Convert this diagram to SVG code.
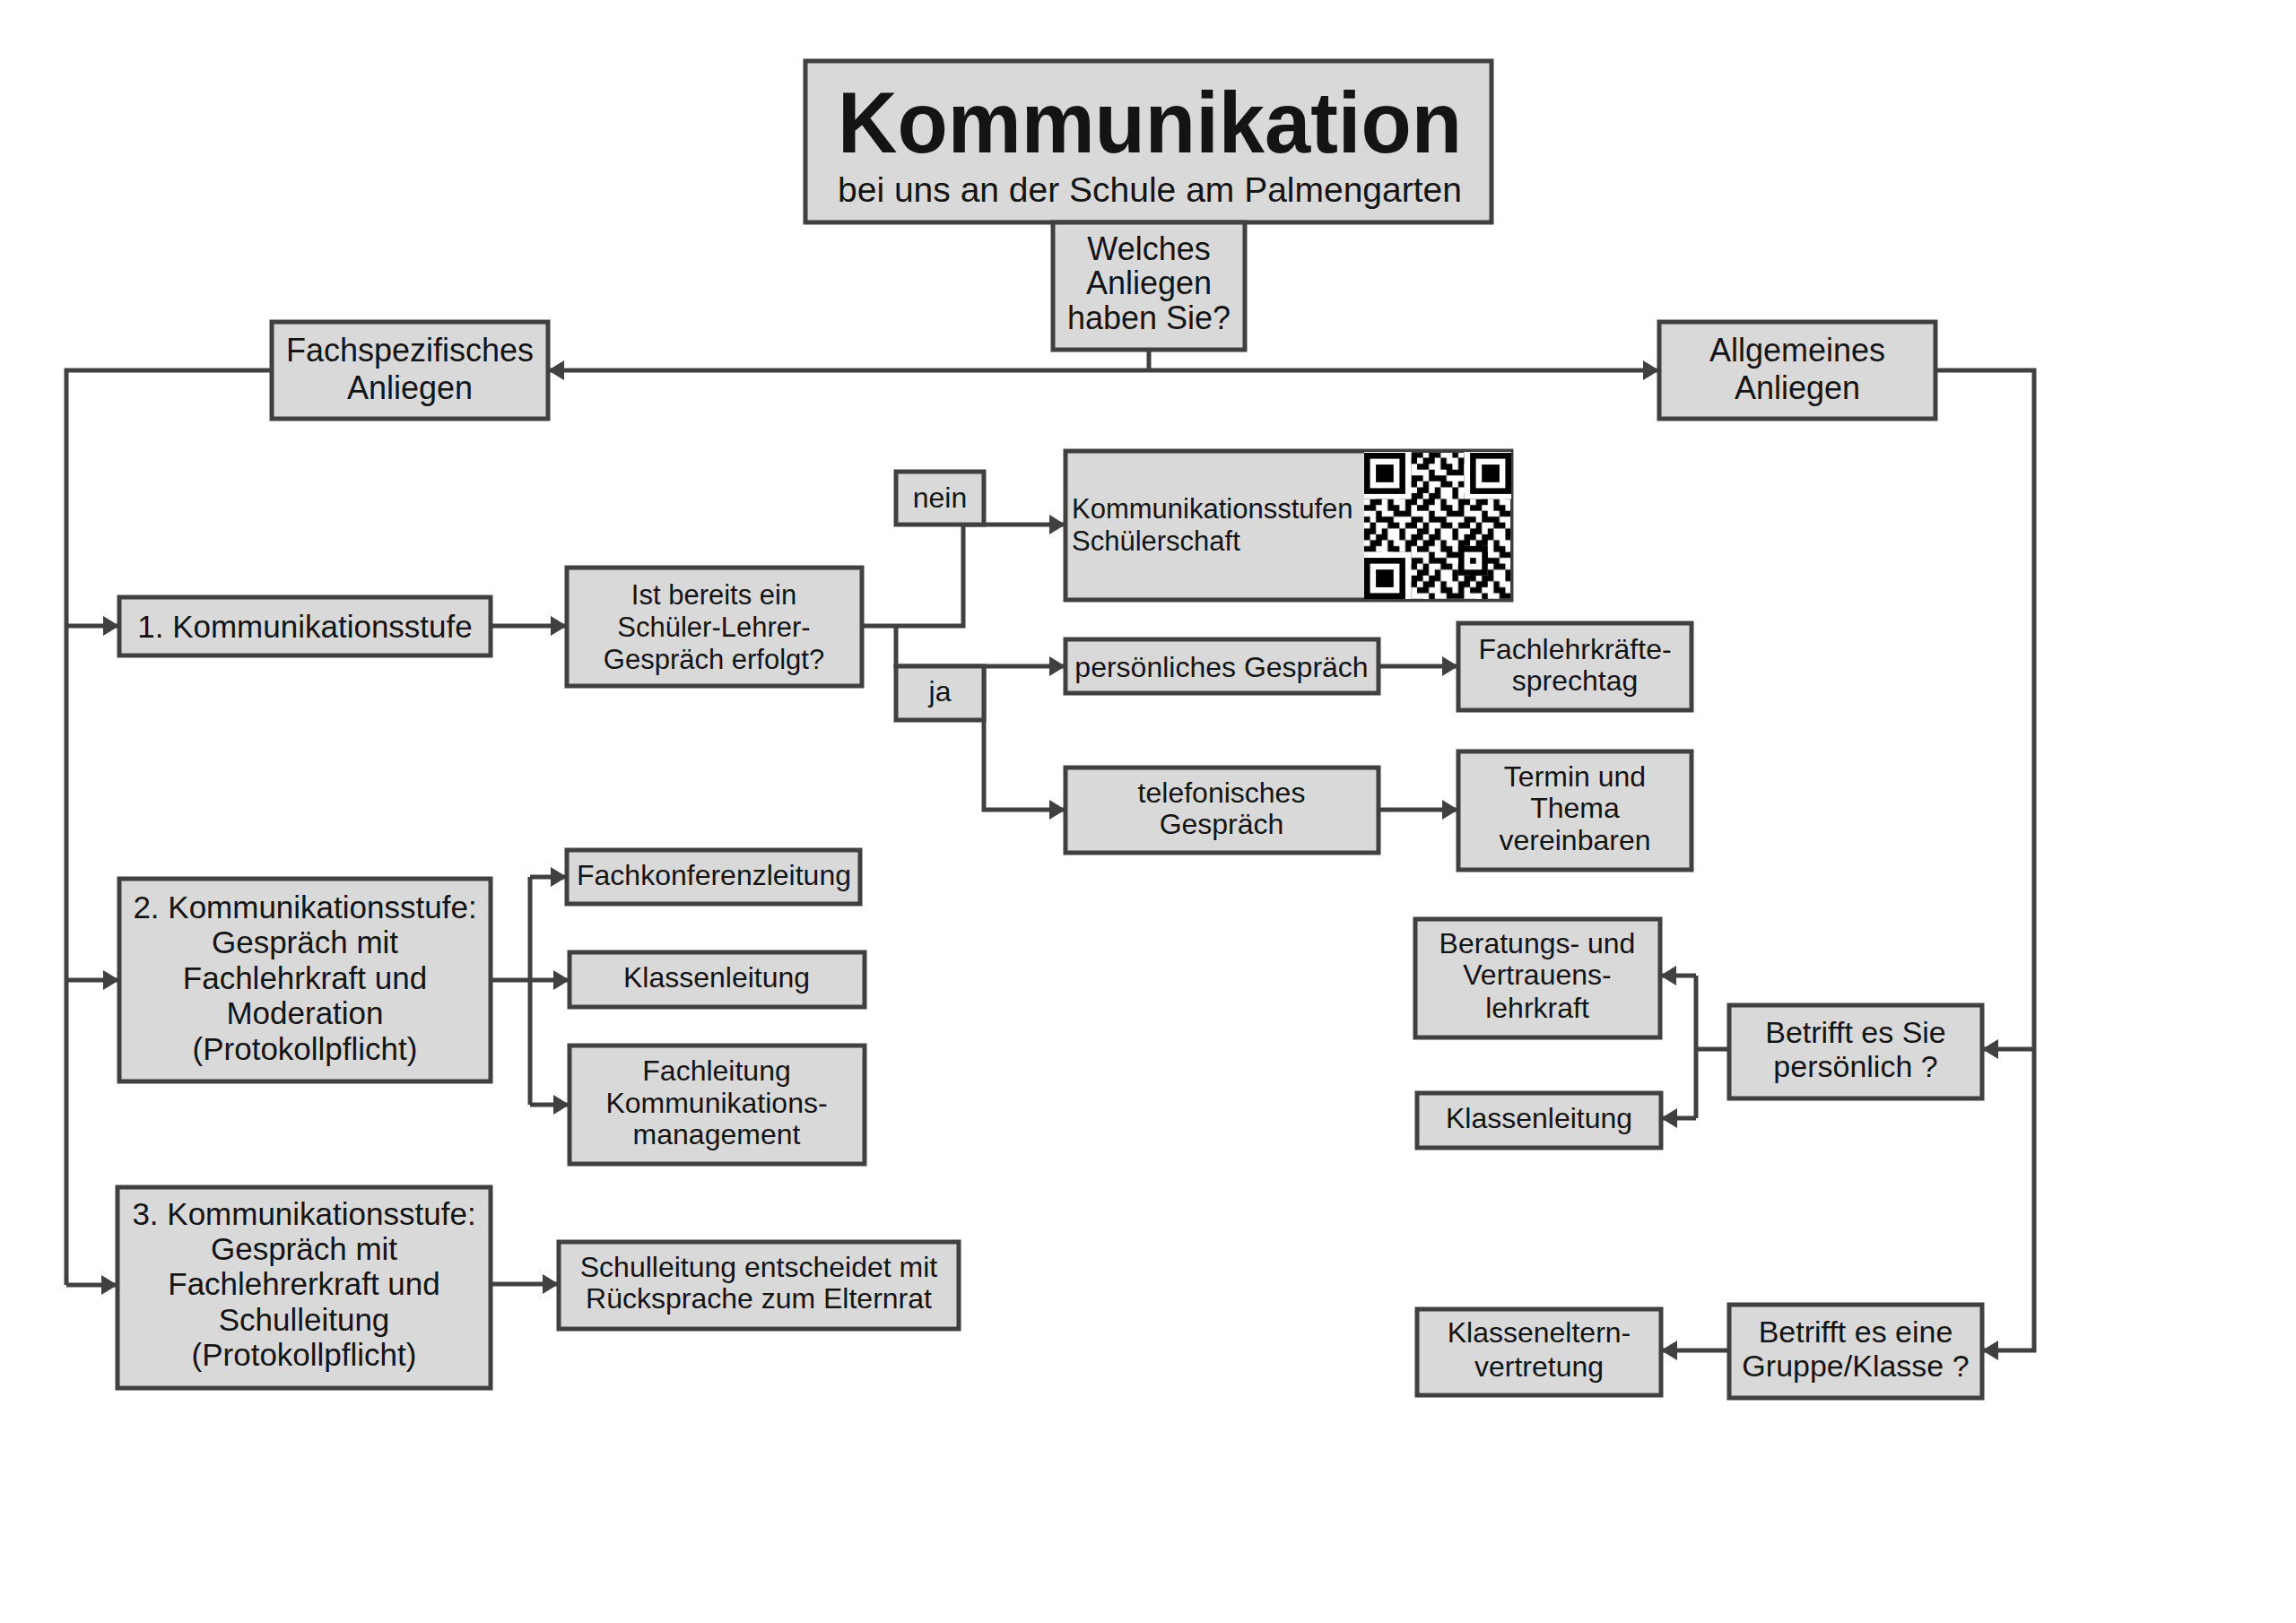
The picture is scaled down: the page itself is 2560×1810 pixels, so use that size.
<svg xmlns="http://www.w3.org/2000/svg" width="2560" height="1810" viewBox="0 0 2560 1810">
<defs>
<style>
.box{fill:#d9d9d9;stroke:#404040;stroke-width:5}
.t{font-family:"Liberation Sans",Arial,sans-serif;fill:#141414;text-anchor:middle}
.l{font-size:35px}
.s{font-size:32px}
.c{fill:none;stroke:#404040;stroke-width:5}
.a{marker-end:url(#arr)}
</style>
<marker id="arr" markerUnits="userSpaceOnUse" markerWidth="20" markerHeight="22" refX="18" refY="11" orient="auto">
<path d="M0,0 L18,11 L0,22 z" fill="#404040"/>
</marker>
<pattern id="qr" patternUnits="userSpaceOnUse" x="0" y="0" width="9" height="7" patternTransform="translate(1521,504) scale(6.56)">
<path fill="#000" d="M0 0h1v1h-1zM2 0h2v1h-2zM6 0h1v1h-1zM8 0h1v1h-1zM1 1h2v1h-2zM4 1h1v1h-1zM7 1h2v1h-2zM0 2h2v1h-2zM4 2h2v1h-2zM7 2h1v1h-1zM2 3h1v1h-1zM5 3h3v1h-3zM0 4h1v1h-1zM2 4h3v1h-3zM8 4h1v1h-1zM1 5h1v1h-1zM4 5h2v1h-2zM7 5h2v1h-2zM0 6h2v1h-2zM3 6h1v1h-1zM6 6h1v1h-1z"/>
</pattern>
</defs>
<rect width="2560" height="1810" fill="#fff"/>

<g id="connectors">
<path class="c" d="M1281 390V413"/>
<path class="c a" d="M1281 413H611"/>
<path class="c a" d="M1281 413H1850"/>
<path class="c" d="M303 413H74V1433"/>
<path class="c a" d="M74 698H133"/>
<path class="c a" d="M74 1093H133"/>
<path class="c a" d="M74 1433H131"/>
<path class="c a" d="M547 698H632"/>
<path class="c" d="M961 698H1074V585"/>
<path class="c a" d="M1074 585H1188"/>
<path class="c a" d="M999 698V743H1188"/>
<path class="c a" d="M1097 743V903H1188"/>
<path class="c a" d="M1537 743H1626"/>
<path class="c a" d="M1537 903H1626"/>
<path class="c" d="M547 1093H591M591 978V1232"/>
<path class="c a" d="M591 978H632"/>
<path class="c a" d="M591 1093H635"/>
<path class="c a" d="M591 1232H635"/>
<path class="c a" d="M547 1432H623"/>
<path class="c a" d="M2158 413H2268V1506H2210"/>
<path class="c a" d="M2268 1170H2210"/>
<path class="c" d="M1928 1170H1891M1891 1088V1247"/>
<path class="c a" d="M1891 1088H1851"/>
<path class="c a" d="M1891 1247H1852"/>
<path class="c a" d="M1928 1506H1852"/>
</g>

<g id="title">
<rect class="box" x="898" y="68" width="765" height="180"/>
<text class="t" x="1282" y="170" font-size="96" font-weight="bold" textLength="696" lengthAdjust="spacingAndGlyphs">Kommunikation</text>
<text class="t" x="1282" y="225" font-size="39">bei uns an der Schule am Palmengarten</text>
</g>

<g id="frage_anliegen">
<rect class="box" x="1174" y="248" width="214" height="142"/>
<text class="t" font-size="36"><tspan x="1281" y="290">Welches</tspan><tspan x="1281" y="328">Anliegen</tspan><tspan x="1281" y="367">haben Sie?</tspan></text>
</g>

<g id="fachspezifisch">
<rect class="box" x="303" y="359" width="308" height="108"/>
<text class="t" font-size="36"><tspan x="457" y="403">Fachspezifisches</tspan><tspan x="457" y="445">Anliegen</tspan></text>
</g>

<g id="allgemein">
<rect class="box" x="1850" y="359" width="308" height="108"/>
<text class="t" font-size="36"><tspan x="2004" y="403">Allgemeines</tspan><tspan x="2004" y="445">Anliegen</tspan></text>
</g>

<g id="stufe1">
<rect class="box" x="133" y="666" width="414" height="65"/>
<text class="t l" x="340" y="711">1. Kommunikationsstufe</text>
</g>

<g id="frage_gespraech">
<rect class="box" x="632" y="633" width="329" height="132"/>
<text class="t" font-size="31"><tspan x="796" y="674">Ist bereits ein</tspan><tspan x="796" y="710">Schüler-Lehrer-</tspan><tspan x="796" y="746">Gespräch erfolgt?</tspan></text>
</g>

<g id="nein">
<rect class="box" x="999" y="526" width="98" height="59"/>
<text class="t s" x="1048" y="566">nein</text>
</g>

<g id="ja">
<rect class="box" x="999" y="743" width="98" height="60"/>
<text class="t s" x="1048" y="782">ja</text>
</g>

<g id="stufen_schuelerschaft">
<rect class="box" x="1188" y="503" width="497" height="166"/>
<text font-family="Liberation Sans, Arial, sans-serif" font-size="31" fill="#141414"><tspan x="1195" y="578">Kommunikationsstufen</tspan><tspan x="1195" y="614">Schülerschaft</tspan></text>
<rect x="1521" y="505" width="163" height="163" fill="#fff"/>
<rect x="1521" y="505" width="163" height="163" fill="url(#qr)"/>
<g fill="#fff">
<rect x="1521" y="504" width="52.5" height="52.5"/>
<rect x="1632.5" y="504" width="52.5" height="52.5"/>
<rect x="1521" y="615.5" width="52.5" height="52.5"/>
</g>
<g fill="#000">
<rect x="1521" y="505" width="45.9" height="45.9"/>
<rect x="1639.1" y="505" width="45.9" height="45.9"/>
<rect x="1521" y="622.1" width="45.9" height="45.9"/>
<rect x="1626" y="609" width="32.8" height="32.8"/>
</g>
<g fill="#fff">
<rect x="1527.6" y="511.6" width="32.8" height="32.8"/>
<rect x="1645.6" y="511.6" width="32.8" height="32.8"/>
<rect x="1527.6" y="628.6" width="32.8" height="32.8"/>
<rect x="1632.6" y="615.6" width="19.7" height="19.7"/>
</g>
<g fill="#000">
<rect x="1534.1" y="518.1" width="19.7" height="19.7"/>
<rect x="1652.2" y="518.1" width="19.7" height="19.7"/>
<rect x="1534.1" y="635.2" width="19.7" height="19.7"/>
<rect x="1639.1" y="622.1" width="6.6" height="6.6"/>
</g>
</g>

<g id="persoenliches_gespraech">
<rect class="box" x="1188" y="713" width="349" height="60"/>
<text class="t s" x="1362" y="755">persönliches Gespräch</text>
</g>

<g id="fachlehrkraefte_sprechtag">
<rect class="box" x="1626" y="695" width="260" height="97"/>
<text class="t s"><tspan x="1756" y="735">Fachlehrkräfte-</tspan><tspan x="1756" y="770">sprechtag</tspan></text>
</g>

<g id="telefonisches_gespraech">
<rect class="box" x="1188" y="856" width="349" height="95"/>
<text class="t s"><tspan x="1362" y="895">telefonisches</tspan><tspan x="1362" y="930">Gespräch</tspan></text>
</g>

<g id="termin">
<rect class="box" x="1626" y="838" width="260" height="132"/>
<text class="t s"><tspan x="1756" y="877">Termin und</tspan><tspan x="1756" y="912">Thema</tspan><tspan x="1756" y="948">vereinbaren</tspan></text>
</g>

<g id="stufe2">
<rect class="box" x="133" y="980" width="414" height="226"/>
<text class="t l"><tspan x="340" y="1024">2. Kommunikationsstufe:</tspan><tspan x="340" y="1063">Gespräch mit</tspan><tspan x="340" y="1103">Fachlehrkraft und</tspan><tspan x="340" y="1142">Moderation</tspan><tspan x="340" y="1182">(Protokollpflicht)</tspan></text>
</g>

<g id="fachkonferenzleitung">
<rect class="box" x="632" y="948" width="327" height="60"/>
<text class="t s" x="796" y="987">Fachkonferenzleitung</text>
</g>

<g id="klassenleitung_1">
<rect class="box" x="635" y="1062" width="329" height="61"/>
<text class="t s" x="799" y="1101">Klassenleitung</text>
</g>

<g id="fachleitung">
<rect class="box" x="635" y="1166" width="329" height="132"/>
<text class="t s"><tspan x="799" y="1205">Fachleitung</tspan><tspan x="799" y="1241">Kommunikations-</tspan><tspan x="799" y="1276">management</tspan></text>
</g>

<g id="stufe3">
<rect class="box" x="131" y="1324" width="416" height="224"/>
<text class="t l"><tspan x="339" y="1366">3. Kommunikationsstufe:</tspan><tspan x="339" y="1405">Gespräch mit</tspan><tspan x="339" y="1444">Fachlehrerkraft und</tspan><tspan x="339" y="1484">Schulleitung</tspan><tspan x="339" y="1523">(Protokollpflicht)</tspan></text>
</g>

<g id="schulleitung">
<rect class="box" x="623" y="1385" width="446" height="97"/>
<text class="t s"><tspan x="846" y="1424">Schulleitung entscheidet mit</tspan><tspan x="846" y="1459">Rücksprache zum Elternrat</tspan></text>
</g>

<g id="beratung">
<rect class="box" x="1578" y="1025" width="273" height="132"/>
<text class="t s"><tspan x="1714" y="1063">Beratungs- und</tspan><tspan x="1714" y="1098">Vertrauens-</tspan><tspan x="1714" y="1135">lehrkraft</tspan></text>
</g>

<g id="klassenleitung_2">
<rect class="box" x="1580" y="1219" width="272" height="61"/>
<text class="t s" x="1716" y="1258">Klassenleitung</text>
</g>

<g id="betrifft_persoenlich">
<rect class="box" x="1928" y="1121" width="282" height="104"/>
<text class="t" font-size="34"><tspan x="2069" y="1163">Betrifft es Sie</tspan><tspan x="2069" y="1201">persönlich ?</tspan></text>
</g>

<g id="betrifft_gruppe">
<rect class="box" x="1928" y="1455" width="282" height="104"/>
<text class="t" font-size="34"><tspan x="2069" y="1497">Betrifft es eine</tspan><tspan x="2069" y="1535">Gruppe/Klasse ?</tspan></text>
</g>

<g id="klasseneltern">
<rect class="box" x="1580" y="1460" width="272" height="96"/>
<text class="t s"><tspan x="1716" y="1497">Klasseneltern-</tspan><tspan x="1716" y="1535">vertretung</tspan></text>
</g>
</svg>
